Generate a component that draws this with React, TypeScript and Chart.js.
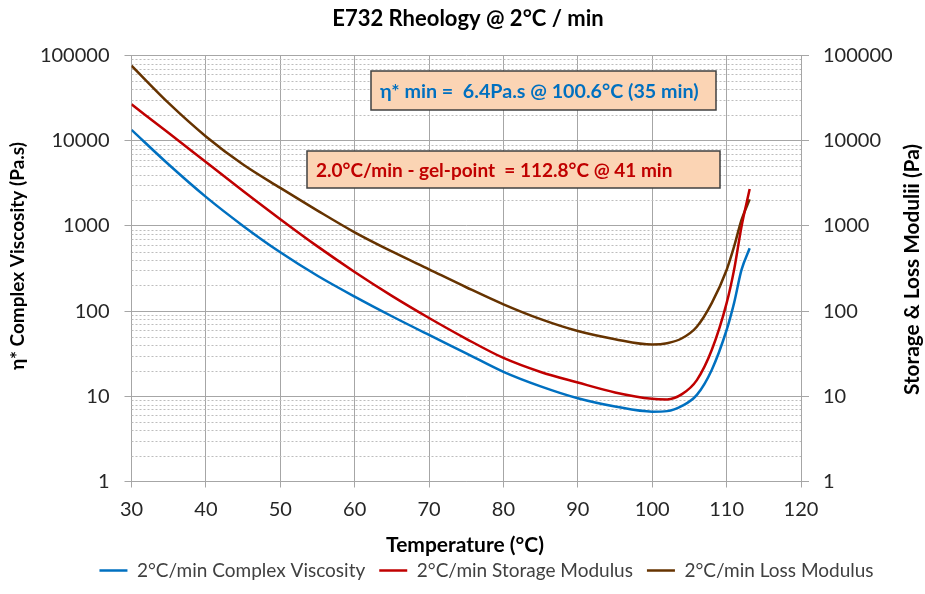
import React, { useEffect, useRef } from "react";
import { Chart, registerables } from "chart.js";

Chart.register(...registerables);

// ---- data ----
const temps = [30, 35, 40, 45, 50, 55, 60, 65, 70, 75, 80, 85, 90, 95, 100, 102, 104, 106, 108, 110, 111, 112, 113.1];
const viscosity = [13400, 5250, 2190, 1000, 490, 260, 148, 87, 52.5, 32, 19.4, 13.1, 9.5, 7.6, 6.6, 6.7, 7.7, 10.4, 20.4, 60, 124, 304, 546];
const storage = [26700, 12300, 5620, 2570, 1200, 575, 288, 151, 83, 47.3, 28.2, 19.3, 14.5, 11.1, 9.33, 9.2, 10.6, 15.5, 34.9, 124, 304, 979, 2710];
const loss = [75900, 27540, 11220, 5250, 2790, 1514, 841, 501, 309, 190.5, 120, 80.4, 58.3, 46.8, 40.5, 41.9, 48, 65.6, 124, 304, 570, 1173, 2050];

const yTicks = [1, 10, 100, 1000, 10000, 100000];
const xTicks = [30, 40, 50, 60, 70, 80, 90, 100, 110, 120];

const titleText = "E732 Rheology @ 2°C / min";
const xTitle = "Temperature (°C)";
const yLeftTitle = "η* Complex Viscosity (Pa.s)";
const yRightTitle = "Storage & Loss Modulii (Pa)";
const seriesNames = ["2°C/min Complex Viscosity", "2°C/min Storage Modulus", "2°C/min Loss Modulus"];
const note1 = "η* min =  6.4Pa.s @ 100.6°C (35 min)";
const note2 = "2.0°C/min - gel-point  = 112.8°C @ 41 min";

const FONT = "Lato, 'Noto Sans', sans-serif";
const BLUE = "#0070C0";
const RED = "#C00000";
const BROWN = "#663300";
const GRID = "#A6A6A6";

const toPts = (ys: number[]) => temps.map((t, i) => ({ x: t, y: ys[i] }));

const overlay = {
  id: "overlay",
  afterLayout(chart: any) {
    const lg = chart.legend;
    if (lg) {
      lg.left += 24;
      lg.right += 24;
    }
  },
  beforeDatasetsDraw(chart: any) {
    const { ctx, chartArea: a, scales } = chart;
    const y = scales.y;
    ctx.save();
    ctx.strokeStyle = "#BDBDBD";
    ctx.lineWidth = 1;
    ctx.setLineDash([2, 2]);
    for (let d = 1; d < 100000; d *= 10) {
      for (let k = 2; k <= 9; k++) {
        const py = Math.round(y.getPixelForValue(d * k)) + 0.5;
        ctx.beginPath();
        ctx.moveTo(a.left, py);
        ctx.lineTo(a.right, py);
        ctx.stroke();
      }
    }
    ctx.restore();
  },
  afterDraw(chart: any) {
    const { ctx } = chart;
    ctx.save();
    ctx.fillStyle = "#000";
    ctx.textAlign = "center";
    ctx.textBaseline = "middle";
    // chart title
    ctx.font = `bold 22px ${FONT}`;
    ctx.fillText(titleText, 468, 19);
    // x title
    ctx.font = `bold 21px ${FONT}`;
    ctx.fillText(xTitle, 465, 545);
    // y titles
    ctx.save();
    ctx.font = `bold 19px ${FONT}`;
    ctx.translate(18, 256);
    ctx.rotate(-Math.PI / 2);
    ctx.fillText(yLeftTitle, 0, 0);
    ctx.restore();
    ctx.save();
    ctx.font = `bold 20.8px ${FONT}`;
    ctx.translate(912, 269.5);
    ctx.rotate(-Math.PI / 2);
    ctx.fillText(yRightTitle, 0, 0);
    ctx.restore();
    // annotation boxes
    const box = (x0: number, y0: number, x1: number, y1: number, text: string, color: string, size: number) => {
      ctx.fillStyle = "#FBD4B4";
      ctx.fillRect(x0, y0, x1 - x0, y1 - y0);
      ctx.strokeStyle = "#404040";
      ctx.lineWidth = 1.5;
      ctx.strokeRect(x0, y0, x1 - x0, y1 - y0);
      ctx.fillStyle = color;
      ctx.font = `bold ${size}px ${FONT}`;
      ctx.textAlign = "left";
      ctx.textBaseline = "middle";
      ctx.fillText(text, x0 + 9, (y0 + y1) / 2 + 1);
    };
    box(371, 71, 716, 110, note1, BLUE, 19.7);
    box(307, 151, 720, 188, note2, RED, 19);
    ctx.restore();
  },
};

export default function App() {
  const ref = useRef<HTMLCanvasElement | null>(null);
  useEffect(() => {
    document.body.style.margin = "0";
    const canvas = ref.current;
    if (!canvas) return;
    Chart.defaults.font.family = FONT;
    const tickFont = { family: FONT, size: 20 };
    const chart = new Chart(canvas, {
      type: "line",
      data: {
        datasets: [
          { label: seriesNames[0], data: toPts(viscosity), yAxisID: "y", borderColor: BLUE, backgroundColor: BLUE, borderWidth: 2.5, pointRadius: 0, cubicInterpolationMode: "monotone" },
          { label: seriesNames[1], data: toPts(storage), yAxisID: "y2", borderColor: RED, backgroundColor: RED, borderWidth: 2.5, pointRadius: 0, cubicInterpolationMode: "monotone" },
          { label: seriesNames[2], data: toPts(loss), yAxisID: "y2", borderColor: BROWN, backgroundColor: BROWN, borderWidth: 2.5, pointRadius: 0, cubicInterpolationMode: "monotone" },
        ],
      },
      options: {
        animation: false,
        responsive: true,
        maintainAspectRatio: false,
        devicePixelRatio: 1,
        layout: { padding: { top: 55.5, bottom: 4, left: 0, right: 0 } },
        plugins: {
          title: { display: false },
          tooltip: { enabled: false },
          legend: {
            position: "bottom",
            labels: {
              usePointStyle: true,
              pointStyle: "line",
              pointStyleWidth: 28,
              padding: 14,
              color: "#404040",
              font: { family: FONT, size: 19 },
            },
          },
        },
        scales: {
          x: {
            type: "linear",
            min: 30,
            max: 120,
            afterBuildTicks: (s: any) => { s.ticks = xTicks.map((v) => ({ value: v })); },
            afterFit: (s: any) => { s.height = 547 - 481.5; },
            ticks: { padding: 10, color: "#262626", font: tickFont, autoSkip: false, maxRotation: 0 },
            grid: { color: GRID, lineWidth: 1, tickLength: 6, tickColor: GRID },
            border: { color: GRID },
          },
          y: {
            type: "logarithmic",
            position: "left",
            min: 1,
            max: 100000,
            afterBuildTicks: (s: any) => { s.ticks = yTicks.map((v) => ({ value: v })); },
            afterFit: (s: any) => { s.width = 131.5; },
            ticks: { padding: 15, color: "#262626", font: tickFont, autoSkip: false, callback: (v: any) => String(v) },
            grid: { color: GRID, lineWidth: 1, tickLength: 7, tickColor: GRID },
            border: { color: GRID },
          },
          y2: {
            type: "logarithmic",
            position: "right",
            min: 1,
            max: 100000,
            afterBuildTicks: (s: any) => { s.ticks = yTicks.map((v) => ({ value: v })); },
            afterFit: (s: any) => { s.width = 124; },
            ticks: { padding: 14, color: "#262626", font: tickFont, autoSkip: false, callback: (v: any) => String(v) },
            grid: { drawOnChartArea: false, color: GRID, tickLength: 8, tickColor: GRID },
            border: { color: GRID },
          },
        },
      },
      plugins: [overlay],
    } as any);
    return () => chart.destroy();
  }, []);
  return (
    <div style={{ position: "absolute", left: 0, top: 0, width: 925, height: 594 }}>
      <canvas ref={ref} />
    </div>
  );
}
